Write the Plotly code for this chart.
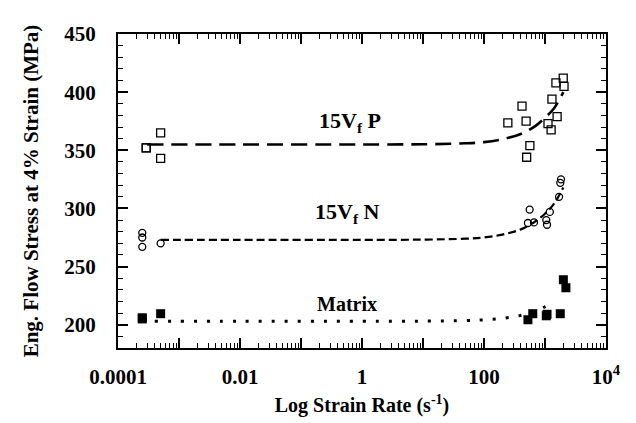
import plotly.graph_objects as go

# ---- data ----
p_x = [2.9e-4, 2.9e-4, 5e-4, 5e-4, 246, 420, 490, 565, 500, 1120, 1260, 1580, 1300, 1510, 1990, 2050]
p_y = [352, 352, 365, 343, 373.5, 388, 375, 354, 344, 373, 367.5, 379, 394, 408, 412, 405]

n_x = [2.5e-4, 2.5e-4, 2.5e-4, 5e-4, 560, 525, 660, 1050, 1080, 1200, 1700, 1780, 1830]
n_y = [279, 275, 267, 270, 299, 287.5, 288, 290, 286, 297, 310, 322, 325]

m_x = [2.5e-4, 2.5e-4, 5e-4, 525, 630, 1050, 1080, 1780, 2200, 2000]
m_y = [206, 205, 209.5, 204.3, 209.5, 207.7, 209, 209.5, 231.8, 238.7]

# fit curves
pf_x = [3e-4, 1e-2, 1, 10, 50, 100, 200, 400, 700, 1000, 1400, 2000]
pf_y = [355, 355, 355, 355.2, 356, 357, 359.5, 364, 371, 378, 386, 400]
nf_x = [5e-4, 1e-2, 1, 10, 50, 100, 200, 400, 700, 1000, 1400, 2000]
nf_y = [273, 273, 273, 273.2, 274, 275, 277.5, 282, 289, 295.5, 304, 318]
mf_x = [4e-4, 1e-2, 1, 10, 50, 100, 200, 400, 700, 1000, 1300]
mf_y = [203, 203, 203, 203.1, 203.6, 204.2, 205.5, 208, 211.5, 215.5, 219]

x_major = [1e-4, 1e-3, 1e-2, 1e-1, 1, 10, 100, 1e3, 1e4]
x_labels = ["0.0001", "", "0.01", "", "1", "", "100", "", "10<sup>4</sup>"]
y_major = [200, 250, 300, 350, 400, 450]
y_minor = [v for v in range(190, 451, 10) if v % 50 != 0]
x_minor = [m * 10 ** e for e in range(-4, 4) for m in range(2, 10)]

FONT = "Liberation Serif"
fig = go.Figure()

fig.add_trace(go.Scatter(x=pf_x, y=pf_y, mode="lines", line=dict(color="black", width=2.6, dash="16px,8px", shape="spline")))
fig.add_trace(go.Scatter(x=nf_x, y=nf_y, mode="lines", line=dict(color="black", width=2.2, dash="8px,4px", shape="spline")))
fig.add_trace(go.Scatter(x=mf_x, y=mf_y, mode="lines", line=dict(color="black", width=3, dash="3px,10px", shape="spline")))

fig.add_trace(go.Scatter(x=p_x, y=p_y, mode="markers",
                         marker=dict(symbol="square-open", size=8, color="black", line=dict(width=1.3))))
fig.add_trace(go.Scatter(x=n_x, y=n_y, mode="markers",
                         marker=dict(symbol="circle-open", size=7, color="black", line=dict(width=1.3))))
fig.add_trace(go.Scatter(x=m_x, y=m_y, mode="markers",
                         marker=dict(symbol="square", size=9, color="black")))

ann_font = dict(family=FONT, size=22, color="black")
fig.add_annotation(x=-0.19, y=374, xref="x", yref="y", text="<b>15V<sub>f</sub> P</b>", showarrow=False, font=ann_font)
fig.add_annotation(x=-0.24, y=296, xref="x", yref="y", text="<b>15V<sub>f</sub> N</b>", showarrow=False, font=ann_font)
fig.add_annotation(x=-0.24, y=218, xref="x", yref="y", text="<b>Matrix</b>", showarrow=False,
                   font=dict(family=FONT, size=20, color="black"))

fig.update_layout(
    width=636, height=423,
    margin=dict(l=118, r=30, t=34, b=75),
    paper_bgcolor="white", plot_bgcolor="white",
    showlegend=False,
    font=dict(family=FONT, color="black"),
)
fig.update_xaxes(
    type="log", range=[-4, 4], automargin=False,
    tickmode="array", tickvals=x_major, ticktext=[f"<b>{t}</b>" if t else "" for t in x_labels],
    ticks="inside", ticklen=10, tickwidth=1.5, tickcolor="black", ticklabelstandoff=9,
    minor=dict(tickmode="array", tickvals=x_minor, ticks="inside", ticklen=5, tickwidth=1, tickcolor="black"),
    showline=True, linecolor="black", linewidth=2, mirror="ticks",
    showgrid=False, zeroline=False,
    tickfont=dict(family=FONT, size=21, color="black"),
    title=dict(text="<b>Log Strain Rate (s<sup>-1</sup>)</b>", font=dict(family=FONT, size=20, color="black"), standoff=10),
)
fig.update_yaxes(
    range=[180, 450], automargin=False,
    tickmode="array", tickvals=y_major, ticktext=[f"<b>{v}</b>" for v in y_major],
    ticks="inside", ticklen=10, tickwidth=1.5, tickcolor="black", ticklabelstandoff=16,
    minor=dict(tickmode="array", tickvals=y_minor, ticks="inside", ticklen=5, tickwidth=1, tickcolor="black"),
    showline=True, linecolor="black", linewidth=2, mirror="ticks",
    showgrid=False, zeroline=False,
    tickfont=dict(family=FONT, size=21, color="black"),
    title=dict(text="<b>Eng. Flow Stress at 4% Strain (MPa)</b>", font=dict(family=FONT, size=21, color="black"), standoff=20),
)

fig.write_html("out.html")
